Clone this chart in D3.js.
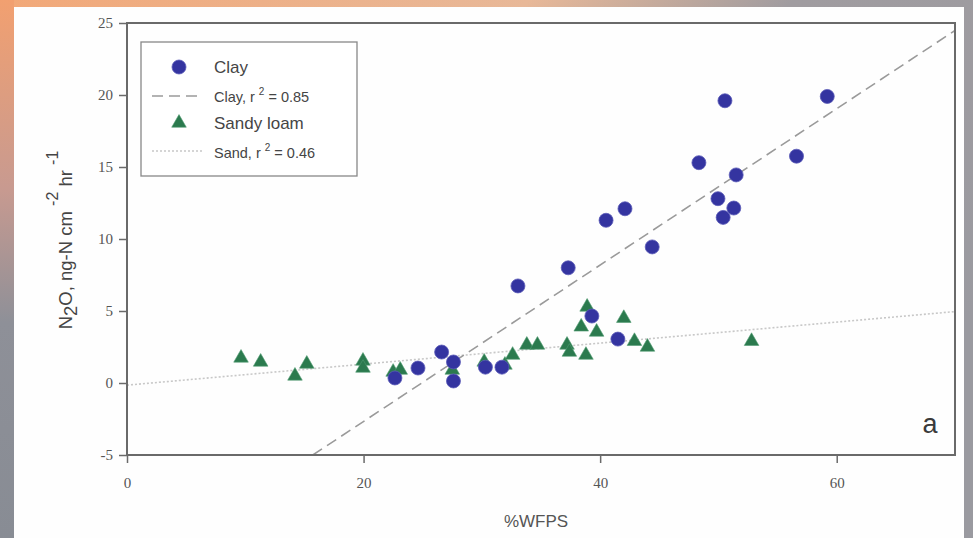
<!DOCTYPE html>
<html lang="en">
<head>
    <meta charset="UTF-8">
    <title>N2O vs WFPS</title>
    <script src="https://cdn.jsdelivr.net/npm/d3@7/dist/d3.min.js"></script>
    <style>
        body { margin: 0; background: #fff; }
        svg { display: block; }
    </style>
</head>
<body>
<script>

    var width = 973;
    var height = 538;

    // clay soil (circles)
    var clayX = [22.65, 24.6, 26.6, 27.6, 27.6, 30.3, 31.7, 33.05, 37.3, 39.3, 41.5,
        40.5, 42.1, 44.4, 48.35, 49.96, 50.4, 50.55, 51.3, 51.5, 56.6, 59.2];
    var clayY = [0.35, 1.04, 2.15, 1.46, 0.14, 1.1, 1.1, 6.74, 8.0, 4.65, 3.05,
        11.3, 12.1, 9.45, 15.3, 12.8, 11.5, 19.6, 12.15, 14.45, 15.75, 19.9];

    // sandy loam (triangles)
    var sandX = [9.64, 11.3, 14.2, 15.2, 19.95, 19.95, 22.5, 23.1, 27.5, 30.2, 31.95,
        32.6, 33.8, 34.7, 37.2, 37.4, 38.8, 38.9, 38.4, 39.7, 42.0, 42.9, 44.0, 52.8];
    var sandY = [1.74, 1.46, 0.49, 1.32, 1.53, 1.04, 0.76, 0.9, 0.9, 1.46, 1.25,
        1.94, 2.64, 2.64, 2.64, 2.15, 1.94, 5.28, 3.9, 3.54, 4.5, 2.9, 2.5, 2.9];

    // regression lines: [slope, intercept]
    var clayFit = [0.543, -13.53];
    var sandFit = [0.073, -0.15];

    var xTicks = [0, 20, 40, 60];
    var yTicks = [-5, 0, 5, 10, 15, 20, 25];

    var svg = d3.select('body')
        .append('svg')
        .attr('width', width)
        .attr('height', height);

    // photo-like border behind the white page
    var defs = svg.append('defs');
    var grad = defs.append('linearGradient')
        .attr('id', 'bg')
        .attr('x1', '0').attr('y1', '0')
        .attr('x2', '1').attr('y2', '0.6');
    grad.append('stop').attr('offset', '0').attr('stop-color', '#f2a878');
    grad.append('stop').attr('offset', '0.4').attr('stop-color', '#e8b898');
    grad.append('stop').attr('offset', '0.6').attr('stop-color', '#a09ca0');
    grad.append('stop').attr('offset', '1').attr('stop-color', '#9a9aa0');

    var gradL = defs.append('linearGradient')
        .attr('id', 'bgl')
        .attr('x1', '0').attr('y1', '0')
        .attr('x2', '0').attr('y2', '1');
    gradL.append('stop').attr('offset', '0').attr('stop-color', '#f2a070');
    gradL.append('stop').attr('offset', '0.35').attr('stop-color', '#c89a90');
    gradL.append('stop').attr('offset', '0.6').attr('stop-color', '#8e9098');
    gradL.append('stop').attr('offset', '1').attr('stop-color', '#888c94');

    svg.append('rect').attr('width', width).attr('height', height).attr('fill', 'url(#bg)');
    svg.append('rect').attr('width', 14).attr('height', height).attr('fill', 'url(#bgl)');
    svg.append('rect')
        .attr('x', 14).attr('y', 7)
        .attr('width', 950).attr('height', height - 7)
        .attr('fill', '#fefefe');

    var x = d3.scaleLinear().domain([0, 70]).range([127, 955]);
    var y = d3.scaleLinear().domain([-5, 25]).range([455, 23]);

    var axisColor = '#6a6a6a';

    // tick marks + labels
    var xAxis = d3.axisBottom(x).tickValues(xTicks).tickSize(8).tickPadding(14).tickSizeOuter(0);
    var yAxis = d3.axisLeft(y).tickValues(yTicks).tickSize(8).tickPadding(6).tickSizeOuter(0)
        .tickFormat(function (d) { return String(d); });

    var gx = svg.append('g')
        .attr('transform', 'translate(0,' + y(-5) + ')')
        .call(xAxis);
    var gy = svg.append('g')
        .attr('transform', 'translate(' + x(0) + ',0)')
        .call(yAxis);

    [gx, gy].forEach(function (g) {
        g.select('.domain').remove();
        g.selectAll('line').attr('stroke', axisColor).attr('stroke-width', 1.5);
        g.selectAll('text')
            .attr('font-family', '"Liberation Serif", "Times New Roman", serif')
            .attr('font-size', 15)
            .attr('fill', '#555');
    });

    // clip for lines
    defs.append('clipPath').attr('id', 'plot')
        .append('rect')
        .attr('x', x(0)).attr('y', y(25))
        .attr('width', x(70) - x(0)).attr('height', y(-5) - y(25));

    var plot = svg.append('g').attr('clip-path', 'url(#plot)');

    // sand regression (dotted)
    plot.append('line')
        .attr('x1', x(0)).attr('y1', y(sandFit[1]))
        .attr('x2', x(70)).attr('y2', y(sandFit[0] * 70 + sandFit[1]))
        .attr('stroke', '#c8c8c8')
        .attr('stroke-width', 1.6)
        .attr('stroke-dasharray', '2,2');

    // clay regression (dashed)
    var clayStart = (-5 - clayFit[1]) / clayFit[0];
    plot.append('line')
        .attr('x1', x(clayStart)).attr('y1', y(-5))
        .attr('x2', x(70)).attr('y2', y(clayFit[0] * 70 + clayFit[1]))
        .attr('stroke', '#9a9a9a')
        .attr('stroke-width', 1.6)
        .attr('stroke-dasharray', '11,6');

    var triangle = d3.symbol().type(d3.symbolTriangle).size(92);

    // sandy loam points
    svg.append('g').selectAll('path')
        .data(d3.range(sandX.length))
        .enter()
        .append('path')
        .attr('d', triangle)
        .attr('transform', function (i) {
            return 'translate(' + x(sandX[i]) + ',' + y(sandY[i]) + ')';
        })
        .attr('fill', '#2b7a4e')
        .attr('stroke', '#4f9a70')
        .attr('stroke-width', 0.6);

    // clay points
    svg.append('g').selectAll('circle')
        .data(d3.range(clayX.length))
        .enter()
        .append('circle')
        .attr('cx', function (i) { return x(clayX[i]); })
        .attr('cy', function (i) { return y(clayY[i]); })
        .attr('r', 7)
        .attr('fill', '#3434a0')
        .attr('stroke', '#5a5ab8')
        .attr('stroke-width', 0.8);

    // frame
    svg.append('rect')
        .attr('x', x(0)).attr('y', y(25))
        .attr('width', x(70) - x(0)).attr('height', y(-5) - y(25))
        .attr('fill', 'none')
        .attr('stroke', axisColor)
        .attr('stroke-width', 2);

    // legend
    var sans = '"Liberation Sans", Arial, sans-serif';
    var lg = svg.append('g');
    lg.append('rect')
        .attr('x', 141).attr('y', 42)
        .attr('width', 216).attr('height', 134)
        .attr('fill', '#fff')
        .attr('stroke', '#888')
        .attr('stroke-width', 1.3);

    lg.append('circle').attr('cx', 179).attr('cy', 67).attr('r', 7)
        .attr('fill', '#3434a0').attr('stroke', '#5a5ab8').attr('stroke-width', 0.8);
    lg.append('line').attr('x1', 152).attr('x2', 200).attr('y1', 96).attr('y2', 96)
        .attr('stroke', '#9a9a9a').attr('stroke-width', 1.6).attr('stroke-dasharray', '11,6');
    lg.append('path').attr('d', triangle)
        .attr('transform', 'translate(179,123)')
        .attr('fill', '#2b7a4e').attr('stroke', '#4f9a70').attr('stroke-width', 0.6);
    lg.append('line').attr('x1', 152).attr('x2', 203).attr('y1', 151).attr('y2', 151)
        .attr('stroke', '#c8c8c8').attr('stroke-width', 1.6).attr('stroke-dasharray', '2,2');

    function legendText(ty, size, parts) {
        var t = lg.append('text')
            .attr('x', 214).attr('y', ty)
            .attr('font-family', sans)
            .attr('font-size', size)
            .attr('fill', '#454545');
        parts.forEach(function (p) {
            var s = t.append('tspan').text(p[0]);
            if (p[1]) s.attr('dy', p[1]).attr('font-size', p[2]);
        });
    }
    legendText(73, 17, [['Clay']]);
    legendText(102, 14.5, [['Clay, r '], ['2', -7, 10], [' = 0.85', 7, 14.5]]);
    legendText(129, 17, [['Sandy loam']]);
    legendText(158, 14.5, [['Sand, r '], ['2', -7, 10], [' = 0.46', 7, 14.5]]);

    // axis titles
    svg.append('text')
        .attr('x', x(35) - 5).attr('y', 527)
        .attr('text-anchor', 'middle')
        .attr('font-family', sans)
        .attr('font-size', 17)
        .attr('fill', '#555')
        .text('%WFPS');

    var yl = svg.append('text')
        .attr('transform', 'translate(72,240) rotate(-90)')
        .attr('text-anchor', 'middle')
        .attr('font-family', sans)
        .attr('font-size', 18.5)
        .attr('fill', '#454545');
    yl.append('tspan').text('N');
    yl.append('tspan').text('2').attr('dy', 5);
    yl.append('tspan').text('O, ng-N cm ').attr('dy', -5);
    yl.append('tspan').text('-2').attr('dy', -14).attr('font-size', 16);
    yl.append('tspan').text(' hr ').attr('dy', 14);
    yl.append('tspan').text('-1').attr('dy', -14).attr('font-size', 16);

    svg.append('text')
        .attr('x', 930).attr('y', 433)
        .attr('text-anchor', 'middle')
        .attr('font-family', sans)
        .attr('font-size', 27)
        .attr('fill', '#3a3a3a')
        .text('a');

</script>
</body>
</html>
